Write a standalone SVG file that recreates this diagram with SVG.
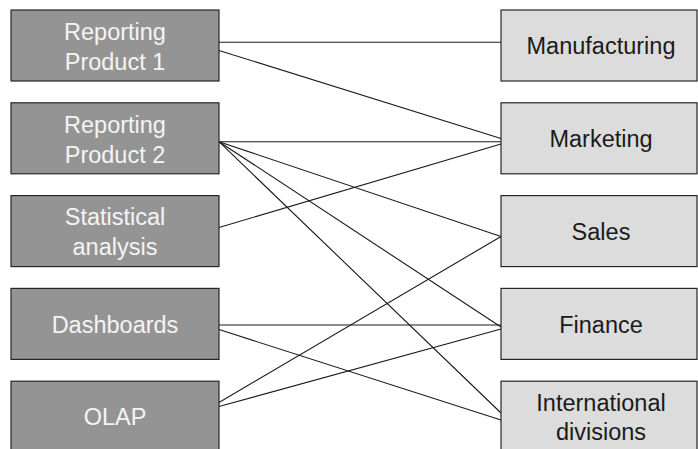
<svg xmlns="http://www.w3.org/2000/svg" width="698" height="449" viewBox="0 0 698 449">
<style>
.src rect{fill:#949494;stroke:#262626;stroke-width:1.2}
.dst rect{fill:#dcdcdc;stroke:#262626;stroke-width:1.2}
text{font-family:"Liberation Sans",Arial,Helvetica,sans-serif;font-size:23.5px;text-anchor:middle}
.src text{fill:#f4f4f4}
.dst text{fill:#1a1a1a}
#edges line{stroke:#1a1a1a;stroke-width:1.1}
</style>
<rect width="698" height="449" fill="#ffffff"/>
<g id="edges">
<line x1="219" y1="42.3" x2="501" y2="42.3"/>
<line x1="219" y1="50.5" x2="501" y2="138.5"/>
<line x1="219" y1="141.7" x2="501" y2="141.7"/>
<line x1="219" y1="141.7" x2="501" y2="236.5"/>
<line x1="219" y1="141.7" x2="501" y2="327"/>
<line x1="219" y1="141.7" x2="501" y2="413"/>
<line x1="219" y1="227.5" x2="501" y2="144"/>
<line x1="219" y1="325" x2="501" y2="325"/>
<line x1="219" y1="329.5" x2="501" y2="420"/>
<line x1="219" y1="402.5" x2="501" y2="236.5"/>
<line x1="219" y1="406.5" x2="501" y2="329"/>
</g>
<g id="rp1" class="src"><rect x="11" y="10" width="208" height="71"/><text x="115" y="40">Reporting</text><text x="115" y="70">Product 1</text></g>
<g id="rp2" class="src"><rect x="11" y="102.8" width="208" height="71"/><text x="115" y="132.5">Reporting</text><text x="115" y="162.5">Product 2</text></g>
<g id="stat" class="src"><rect x="11" y="195.6" width="208" height="71"/><text x="115" y="225">Statistical</text><text x="115" y="255">analysis</text></g>
<g id="dash" class="src"><rect x="11" y="288.4" width="208" height="71"/><text x="115" y="332.5">Dashboards</text></g>
<g id="olap" class="src"><rect x="11" y="381.2" width="208" height="71"/><text x="115" y="425">OLAP</text></g>
<g id="manu" class="dst"><rect x="501" y="10" width="196" height="71"/><text x="601" y="54">Manufacturing</text></g>
<g id="mkt" class="dst"><rect x="501" y="102.8" width="196" height="71"/><text x="601" y="146.5">Marketing</text></g>
<g id="sales" class="dst"><rect x="501" y="195.6" width="196" height="71"/><text x="601" y="239.5">Sales</text></g>
<g id="fin" class="dst"><rect x="501" y="288.4" width="196" height="71"/><text x="601" y="332.5">Finance</text></g>
<g id="intl" class="dst"><rect x="501" y="381.2" width="196" height="71"/><text x="601" y="411">International</text><text x="601" y="440">divisions</text></g>
</svg>
